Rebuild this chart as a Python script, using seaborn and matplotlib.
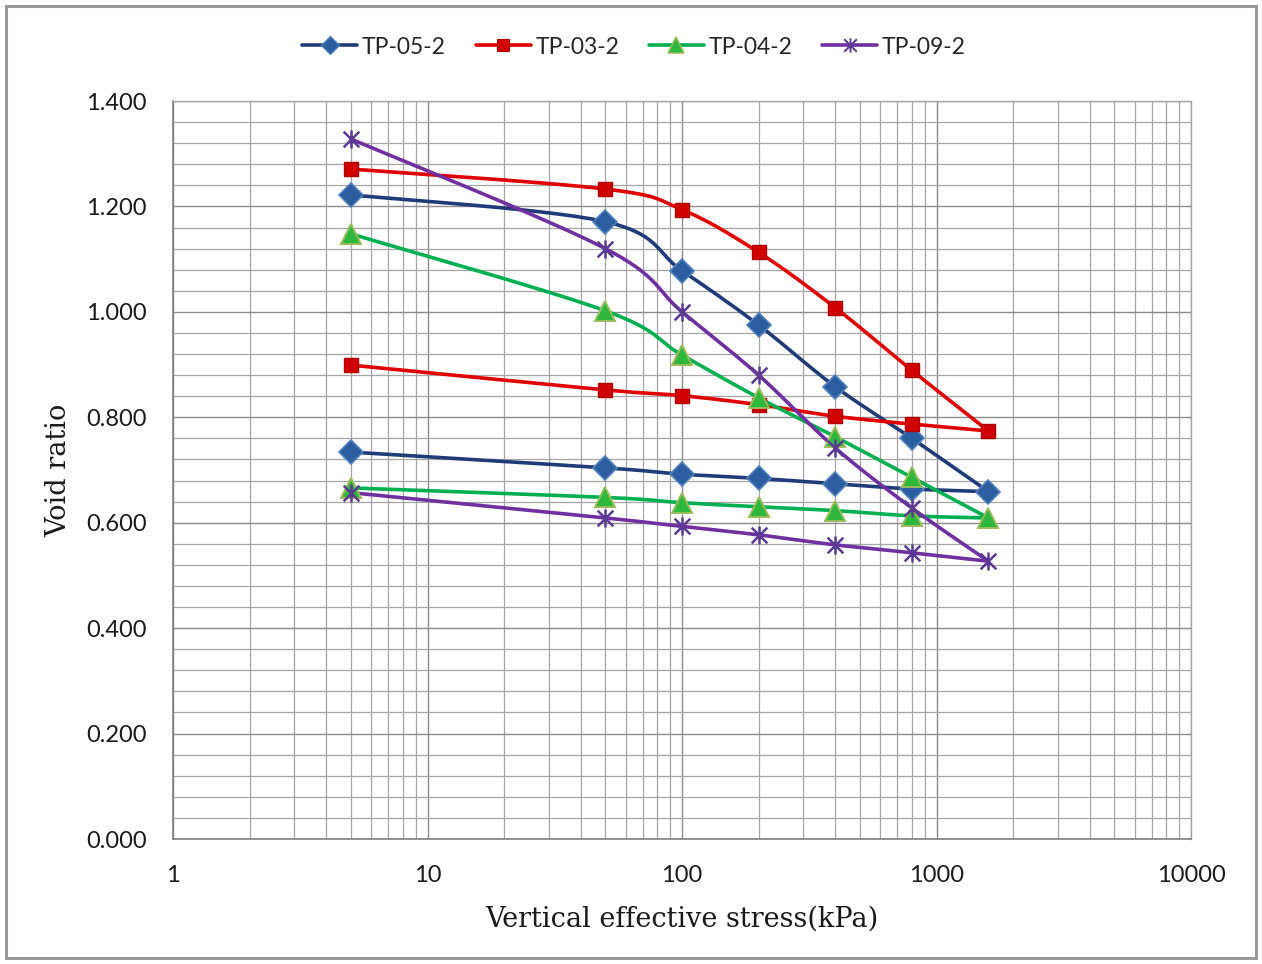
import numpy as np
import matplotlib
matplotlib.use("Agg")
import matplotlib.pyplot as plt
from matplotlib.path import Path
from matplotlib.lines import Line2D
from matplotlib.patches import Rectangle
from matplotlib.ticker import LogLocator, MultipleLocator, FuncFormatter
import seaborn as sns

# Oedometer test: loading 5 -> 1600 kPa, then unloading back to 5 kPa
stress = [5, 50, 100, 200, 400, 800, 1600, 800, 400, 200, 100, 50, 5]
tp05_2 = [1.222, 1.171, 1.078, 0.975, 0.858, 0.760, 0.659, 0.664, 0.674, 0.684, 0.692, 0.704, 0.734]
tp03_2 = [1.271, 1.233, 1.194, 1.113, 1.008, 0.889, 0.774, 0.787, 0.802, 0.824, 0.841, 0.852, 0.899]
tp04_2 = [1.148, 1.002, 0.918, 0.837, 0.763, 0.686, 0.609, 0.613, 0.623, 0.630, 0.638, 0.648, 0.666]
tp09_2 = [1.328, 1.120, 1.000, 0.880, 0.742, 0.628, 0.527, 0.543, 0.558, 0.577, 0.593, 0.609, 0.657]

series_names = ["TP-05-2", "TP-03-2", "TP-04-2", "TP-09-2"]
series_values = [tp05_2, tp03_2, tp04_2, tp09_2]

x_tick_labels = ["1", "10", "100", "1000", "10000"]

sns.set_theme(style="white")
plt.rcParams["font.family"] = ["Lato", "DejaVu Sans"]

# asterisk-like marker: a cross with a vertical bar
star_path = Path(
    [(-1, -1), (1, 1), (-1, 1), (1, -1), (0, -1.15), (0, 1.15)],
    [Path.MOVETO, Path.LINETO, Path.MOVETO, Path.LINETO, Path.MOVETO, Path.LINETO],
)

styles = {
    "TP-05-2": dict(line="#1F3C78", marker="D", mfc="#2C5D9F", mec="#4F81BD", ms=12, mew=1.2),
    "TP-03-2": dict(line="#E00000", marker="s", mfc="#D00000", mec="#B00000", ms=10.5, mew=1.0),
    "TP-04-2": dict(line="#00B050", marker="^", mfc="#2DB83D", mec="#9BBB59", ms=14, mew=1.4),
    "TP-09-2": dict(line="#7030A0", marker=star_path, mfc="none", mec="#5B3A91", ms=13, mew=1.8),
}


def smooth_curve(xs, ys, n=30):
    """Catmull-Rom (Bezier-equivalent) smoothing in log-x / linear-y space."""
    px = np.log10(np.asarray(xs, dtype=float))
    py = np.asarray(ys, dtype=float)
    P = np.column_stack([px, py])
    P = np.vstack([P[0], P, P[-1]])
    out = []
    t = np.linspace(0, 1, n)[:, None]
    for i in range(1, len(P) - 2):
        p0, p1, p2, p3 = P[i - 1], P[i], P[i + 1], P[i + 2]
        b1 = p1 + (p2 - p0) / 6.0
        b2 = p2 - (p3 - p1) / 6.0
        seg = ((1 - t) ** 3) * p1 + 3 * ((1 - t) ** 2) * t * b1 + 3 * (1 - t) * t ** 2 * b2 + t ** 3 * p2
        out.append(seg if i == 1 else seg[1:])
    out = np.vstack(out)
    return 10 ** out[:, 0], out[:, 1]


fig = plt.figure(figsize=(12.62, 9.64), dpi=100)
ax = fig.add_axes([173 / 1262, 1 - 839 / 964, (1191 - 173) / 1262, (839 - 101) / 964])

grid_color = "#A6A6A6"
ax.set_xscale("log")
ax.set_xlim(1, 10000)
ax.set_ylim(0, 1.4)
ax.xaxis.set_major_locator(LogLocator(base=10))
ax.xaxis.set_minor_locator(LogLocator(base=10, subs=np.arange(2, 10)))
ax.xaxis.set_major_formatter(FuncFormatter(lambda v, p: x_tick_labels[int(round(np.log10(v)))] if 1 <= v <= 10000 else ""))
ax.xaxis.set_minor_formatter(FuncFormatter(lambda v, p: ""))
ax.yaxis.set_major_locator(MultipleLocator(0.2))
ax.yaxis.set_minor_locator(MultipleLocator(0.04))
ax.yaxis.set_major_formatter(FuncFormatter(lambda v, p: f"{v:.3f}"))

ax.grid(True, which="major", color="#8C8C8C", linewidth=1.0)
ax.grid(True, which="minor", color=grid_color, linewidth=0.9)
ax.set_axisbelow(True)

for side in ["top", "right"]:
    ax.spines[side].set_color(grid_color)
    ax.spines[side].set_linewidth(1.0)
for side in ["left", "bottom"]:
    ax.spines[side].set_color("#7F7F7F")
    ax.spines[side].set_linewidth(1.2)

ax.tick_params(axis="both", which="major", direction="out", length=7, width=1.2,
               color="#7F7F7F", labelsize=17, labelcolor="#1A1A1A")
ax.tick_params(axis="y", which="major", pad=12)
ax.tick_params(axis="x", which="major", pad=12)
ax.tick_params(axis="both", which="minor", length=0)

n_load = stress.index(max(stress)) + 1
handles = []
for name, vals in zip(series_names, series_values):
    st = styles[name]
    # loading branch and unloading branch are smoothed separately (sharp turn at max stress)
    for lo, hi in [(0, n_load), (n_load - 1, len(stress))]:
        sx, sy = smooth_curve(stress[lo:hi], vals[lo:hi])
        sns.lineplot(x=sx, y=sy, sort=False, estimator=None, color=st["line"], linewidth=2.6, ax=ax, zorder=3)
    ax.plot(stress, vals, linestyle="none", marker=st["marker"], markersize=st["ms"],
            markerfacecolor=st["mfc"], markeredgecolor=st["mec"], markeredgewidth=st["mew"], zorder=4)
    handles.append(Line2D([0], [0], color=st["line"], linewidth=2.6, marker=st["marker"],
                          markersize=st["ms"] * 0.8, markerfacecolor=st["mfc"],
                          markeredgecolor=st["mec"], markeredgewidth=st["mew"] * 0.8))

ax.set_xlabel("Vertical effective stress(kPa)", family=["DejaVu Serif"], fontsize=19.5, color="#1A1A1A", labelpad=14)
ax.set_ylabel("Void ratio", family=["DejaVu Serif"], fontsize=19.5, color="#1A1A1A", labelpad=10)

fig.legend(handles, series_names, loc="center", bbox_to_anchor=(634 / 1262, 1 - 47 / 964), ncol=4,
           frameon=False, fontsize=16.5, handlelength=2.4, handletextpad=0.2, columnspacing=1.3)

# outer chart border
fig.patches.append(Rectangle((6 / 1262, 6 / 964), 1250 / 1262, 952 / 964, transform=fig.transFigure,
                             fill=False, edgecolor="#9A9A9A", linewidth=2.2))

fig.savefig("out.png", dpi=100, facecolor="white")
